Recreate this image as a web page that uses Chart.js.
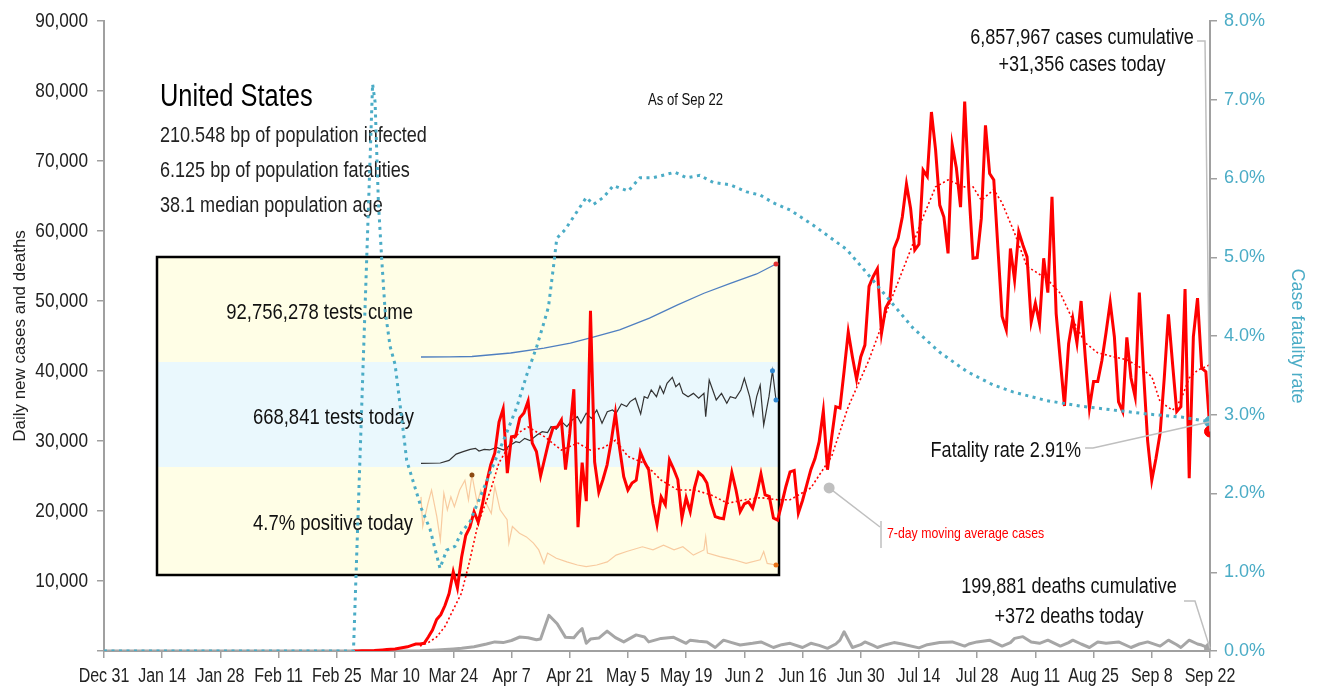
<!DOCTYPE html>
<html lang="en">
<head>
<meta charset="utf-8"/>
<title>United States - daily cases, deaths and fatality rate</title>
<script src="https://cdn.jsdelivr.net/npm/chart.js"></script>
<style>
  body { margin: 0; background: #fff; }
  canvas { display: block; }
</style>
</head>
<body>
<canvas id="chart" width="1318" height="688"></canvas>
<script>
// x values are days counted from Dec 31, 2019
const xLabels = ['Dec 31','Jan 14','Jan 28','Feb 11','Feb 25','Mar 10','Mar 24','Apr 7','Apr 21','May 5',
  'May 19','Jun 2','Jun 16','Jun 30','Jul 14','Jul 28','Aug 11','Aug 25','Sep 8','Sep 22'];

// daily new cases, day 60 .. day 266
const caseStart = 60;
const dailyCases = [
  0, 10, 20, 30, 40, 60, 100, 150, 200, 250,
  300, 400, 500, 600, 800, 1000, 1000, 1100, 2000, 3000,
  4500, 5200, 6500, 8200, 11300, 9000, 13400, 16500, 17700, 19900,
  18400, 20900, 24000, 26600, 28300, 32700, 34600, 25400, 30600, 30700,
  33300, 34000, 35700, 29700, 28500, 25000, 27500, 30000, 31900, 32000,
  33000, 25900, 31000, 37400, 17700, 26900, 21400, 48600, 27000, 22700,
  24500, 26600, 30000, 34000, 29000, 24900, 23000, 24000, 24400, 28400,
  27000, 25900, 21100, 18100, 22000, 20900, 27300, 26000, 24500, 19000,
  21900, 19900, 23300, 25500, 25000, 24000, 21100, 19200, 19000, 18900,
  22000, 25500, 23000, 19900, 21000, 21300, 20400, 22500, 25300, 22300,
  22100, 19000, 18700, 21000, 23500, 25600, 25800, 19700, 21500, 23700,
  25900, 27500, 29900, 34300, 25900, 30500, 34900, 34700, 40000, 45600,
  42000, 38800, 42000, 43700, 52100, 53500, 54600, 45400, 49000, 50100,
  57500, 59000, 62000, 66700, 63200, 57300, 58100, 68700, 67800, 77000,
  71600, 63700, 62000, 56800, 72300, 69000, 63400, 78500, 65900, 56100,
  56200, 61800, 75100, 68200, 67300, 57500, 47800, 45900, 57500, 53000,
  59900, 58000, 56300, 47000, 49700, 46800, 56100, 51200, 64900, 48200,
  41500, 35000, 43900, 47500, 44000, 50000, 42000, 34700, 38500, 38500,
  41500, 45500, 49800, 44900, 35600, 34200, 44800, 39000, 36300, 51200,
  40000, 30000, 24400, 27500, 31100, 39000, 48100, 41000, 34200, 34900,
  51700, 24700, 44900, 50400, 40400, 39900, 31356
];

// 7-day moving average of cases [day, value]
const maCases = [
  [76,700],[78,1200],[80,2000],[82,3500],[86,8300],[88,13000],[90,18300],[93,23000],[95,26900],
  [98,29900],[100,31300],[102,32000],[106,30600],[110,28700],[114,29700],[117,28700],[120,29000],
  [123,30100],[126,27800],[130,26800],[134,24400],[138,23000],[142,23000],[146,22300],[150,21100],
  [154,21600],[158,21900],[162,21600],[165,21600],[170,23300],[175,27800],[179,34900],[184,41600],
  [189,49700],[194,57300],[197,62000],[200,66300],[203,67300],[207,66300],[209,66300],[211,64400],
  [214,65900],[216,64000],[219,59700],[222,54900],[224,54200],[227,53000],[230,51100],[233,47300],
  [236,44000],[239,42600],[243,42000],[246,41600],[249,40600],[252,39200],[254,35600],[257,34400],
  [259,35900],[261,39000],[263,40100],[266,40900]
];

// daily deaths [day, value]
const dailyDeaths = [
  [0,0],[60,0],[70,10],[76,40],[80,150],[84,300],[86,400],[89,600],[92,1000],[94,1300],[96,1200],
  [98,1500],[100,2000],[102,1900],[104,1600],[105,1700],[107,5100],[109,3900],[111,1950],[113,1900],
  [114,2600],[115,3200],[116,1100],[117,1700],[119,1850],[121,2850],[123,1900],[125,1300],[128,2300],
  [130,2000],[131,1300],[134,1800],[137,1950],[140,1100],[141,1550],[143,1400],[145,1300],[147,500],
  [149,1550],[151,1200],[153,850],[156,1100],[158,1300],[161,500],[163,900],[165,1100],[168,500],
  [170,1100],[172,800],[174,380],[176,1000],[177,1550],[178,2750],[180,500],[182,900],[183,1300],
  [185,800],[186,500],[188,900],[190,1200],[192,1000],[193,850],[196,450],[198,900],[201,1200],
  [204,1300],[207,700],[208,1000],[210,1300],[213,1550],[216,700],[218,1200],[219,1800],[221,2050],
  [223,1300],[225,1100],[227,1550],[230,700],[232,1200],[233,1550],[235,1000],[237,500],[239,1300],
  [241,1100],[244,1300],[247,500],[249,1000],[251,1300],[254,700],[256,1550],[258,900],[259,500],
  [261,1550],[263,1000],[264,850],[266,372]
];

// case fatality rate, % [day, value]
const fatalityRate = [
  [0,0],[60,0],[64.6,7.2],[65.2,6.97],[66,5.69],[66.8,4.97],[67.6,4.33],[68.8,3.87],[70,3.64],
  [71.6,2.96],[72.8,2.42],[76.4,1.8],[78.4,1.55],[80.8,1.05],[82.4,1.28],[84.4,1.33],[86,1.51],
  [88,1.64],[92,2.15],[94.4,2.46],[96.9,2.78],[99.3,3.1],[101.7,3.51],[104.1,3.87],[105.7,4.15],
  [106.9,4.37],[108.1,4.88],[108.9,5.24],[110.9,5.35],[112.9,5.51],[116,5.76],[117.7,5.67],
  [120.1,5.76],[122.5,5.91],[126.1,5.84],[128.9,6.01],[132.1,6.01],[137.3,6.08],[140.1,6.01],
  [143.3,6.04],[146.5,5.95],[150.6,5.92],[154.6,5.83],[157.8,5.79],[161,5.69],[165,5.6],[170.5,5.41],
  [178.6,5.1],[184.9,4.71],[189,4.45],[194.6,4.1],[201.1,3.79],[207.5,3.55],[213.8,3.38],[218.6,3.29],
  [226.7,3.18],[234.7,3.11],[242.7,3.06],[250.8,3.01],[259.1,2.97],[266,2.91]
];

// inset: testing [day, value]
const testsCume = [
  [64,0],[80,100000],[93,500000],[115,4000000],[134,8900000],[149,13900000],[162,19900000],
  [177,27100000],[194,38700000],[210,52000000],[225,63600000],[240,73500000],[255,82800000],[266,92756278]
];
const testsToday = [
  [64,37000],[75,40000],[80,66000],[84,129000],[88,153000],[92,176000],[95,186000],[97,160000],
  [100,176000],[103,170000],[107,196000],[111,170000],[115,220000],[118,253000],[120,243000],
  [123,286000],[126,263000],[130,320000],[133,353000],[136,343000],[138,403000],[141,376000],
  [144,453000],[147,403000],[150,469000],[153,502000],[155,436000],[158,536000],[161,486000],
  [164,569000],[167,436000],[170,552000],[173,569000],[175,536000],[178,629000],[181,603000],
  [183,653000],[186,686000],[189,529000],[191,702000],[193,686000],[195,769000],[198,702000],
  [200,808000],[202,735000],[204,835000],[207,895000],[209,802000],[211,835000],[213,735000],
  [216,702000],[219,735000],[222,686000],[225,735000],[226,502000],[228,868000],[230,769000],
  [232,669000],[235,735000],[238,636000],[240,702000],[243,686000],[246,769000],[248,885000],
  [251,702000],[253,519000],[255,702000],[257,818000],[259,419000],[262,702000],[264,962000],[266,668841]
];
const positiveRate = [
  [64,17.8],[65,12.1],[68,16.6],[70,19.1],[73,14.0],[75,9.5],[77,18.5],[79,15.3],[81,17.8],[83,15.9],
  [86,19.1],[89,21.0],[91,17.2],[93,22.0],[96,16.6],[98,19.1],[101,16.6],[104,14.6],[106,19.8],
  [109,15.3],[113,13.4],[114,8.9],[116,12.1],[120,10.8],[124,10.1],[128,8.9],[131,7.6],[134,5.0],
  [136,7.0],[141,6.0],[147,5.3],[153,4.7],[158,4.4],[164,4.7],[170,5.3],[175,6.6],[181,7.3],
  [190,8.2],[196,7.6],[202,8.5],[208,7.6],[213,8.2],[219,6.6],[225,7.6],[226,10.1],[227,7.0],
  [234,6.3],[242,5.7],[249,5.0],[257,5.7],[259,7.3],[261,5.0],[266,4.7]
];

const SANS = "'Liberation Sans', Arial, sans-serif";
const SQUEEZE = 0.82;   // narrow look for the condensed labels
const BLUE = '#4BACC6';
const GRID = '#A0A0A0';

const toPts = arr => arr.map(p => ({ x: p[0], y: p[1] }));
const casePts = dailyCases.map((v, i) => ({ x: caseStart + i, y: v }));
const lastCase = casePts[casePts.length - 1];
const lastCfr = toPts(fatalityRate).pop();
const lastDeath = toPts(dailyDeaths).pop();

// plot area and inset placement (pixels)
const AREA = { left: 104, right: 1210, top: 21, bottom: 651 };
const BOX = { x: 157, y: 257, w: 622, h: 318 };

function hRange(v1, p1, v2, p2) {
  const s = (p2 - p1) / (v2 - v1);
  return { min: v1 - (p1 - AREA.left) / s, max: v1 + (AREA.right - p1) / s };
}
function vRange(v1, p1, v2, p2) {
  const s = (p1 - p2) / (v2 - v1);
  return { min: v1 - (AREA.bottom - p1) / s, max: v1 + (p1 - AREA.top) / s };
}
const xi = hRange(64, 421, 266, 776);
const yc = vRange(0, 357, 92756278, 264);
const yt = vRange(0, 467, 668841, 400);
const yp = vRange(4.7, 565, 22, 475);

function markIdx(arr) {
  let m = 0;
  arr.forEach((p, i) => { if (p[1] > arr[m][1]) m = i; });
  return m;
}
const todayMax = markIdx(testsToday);
const posMax = markIdx(positiveRate);

// condensed text: regular sans squeezed horizontally
function txt(c, s, x, y, size, color, align) {
  c.save();
  c.font = size + 'px ' + SANS;
  c.fillStyle = color;
  c.textBaseline = 'middle';
  c.textAlign = 'left';
  const w = c.measureText(s).width * SQUEEZE;
  let left = x;
  if (align === 'right') left = x - w;
  if (align === 'center') left = x - w / 2;
  c.translate(left, y);
  c.scale(SQUEEZE, 1);
  c.fillText(s, 0, 0);
  c.restore();
}

const notes = {
  id: 'notes',
  beforeDatasetsDraw(chart) {
    const c = chart.ctx;
    c.save();
    c.fillStyle = '#FFFEE6'; c.fillRect(BOX.x, BOX.y, BOX.w, 105);
    c.fillStyle = '#EAF8FD'; c.fillRect(BOX.x, BOX.y + 105, BOX.w, 105);
    c.fillStyle = '#FFFEE6'; c.fillRect(BOX.x, BOX.y + 210, BOX.w, BOX.h - 210);
    c.strokeStyle = '#000'; c.lineWidth = 2.5;
    c.strokeRect(BOX.x, BOX.y, BOX.w, BOX.h);
    c.restore();

    txt(c, '92,756,278 tests cume', 413, 313, 22.5, '#111', 'right');
    txt(c, '668,841 tests today', 414, 418, 22.5, '#111', 'right');
    txt(c, '4.7% positive today', 413, 524, 22.5, '#111', 'right');

    txt(c, 'United States', 160, 97, 31, '#000');
    txt(c, '210.548 bp of population infected', 160, 136, 22, '#222');
    txt(c, '6.125 bp of population fatalities', 160, 171, 22, '#222');
    txt(c, '38.1 median population age', 160, 206, 22, '#222');
    txt(c, 'As of Sep 22', 648, 101, 16, '#111');
  },
  afterDatasetsDraw(chart) {
    const c = chart.ctx, x = chart.scales.x, y = chart.scales.y, y1 = chart.scales.y1;
    const cx = x.getPixelForValue(lastCase.x), cy = y.getPixelForValue(lastCase.y);
    const fy = y1.getPixelForValue(lastCfr.y), dy = y.getPixelForValue(lastDeath.y);
    c.save();
    c.strokeStyle = '#BFBFBF'; c.lineWidth = 1.5;
    c.beginPath(); c.moveTo(1197, 41); c.lineTo(1205, 41); c.lineTo(cx, cy); c.stroke();
    c.beginPath(); c.moveTo(1085, 448); c.lineTo(1093, 448); c.lineTo(cx, fy); c.stroke();
    c.beginPath(); c.moveTo(1184, 601); c.lineTo(1195, 601); c.lineTo(cx, dy); c.stroke();
    // moving average callout
    const mx = x.getPixelForValue(174.4), my = y.getPixelForValue(23300);
    c.beginPath(); c.moveTo(mx, my); c.lineTo(880, 527); c.stroke();
    c.beginPath(); c.moveTo(881, 521); c.lineTo(881, 548); c.stroke();
    c.fillStyle = '#BFBFBF';
    c.beginPath(); c.arc(mx, my, 5.5, 0, Math.PI * 2); c.fill();
    c.restore();

    txt(c, '6,857,967 cases cumulative', 1082, 38, 22, '#111', 'center');
    txt(c, '+31,356 cases today', 1082, 65, 22, '#111', 'center');
    txt(c, 'Fatality rate 2.91%', 1081, 451, 22, '#111', 'right');
    txt(c, '7-day moving average cases', 887, 534, 15, '#FF0000');
    txt(c, '199,881 deaths cumulative', 1069, 587, 22, '#111', 'center');
    txt(c, '+372 deaths today', 1069, 617, 22, '#111', 'center');
  },
  afterDraw(chart) {
    const c = chart.ctx, x = chart.scales.x, y = chart.scales.y;
    x.ticks.forEach((t, i) => {
      txt(c, xLabels[i], x.getPixelForValue(t.value), 677, 19.5, '#222', 'center');
    });
    y.ticks.forEach(t => {
      if (t.value === 0) return;
      txt(c, t.value.toLocaleString('en-US'), 88, y.getPixelForValue(t.value), 21, '#222', 'right');
    });
  }
};

const axisGrid = { drawOnChartArea: false, drawTicks: true, tickLength: 7, color: GRID, lineWidth: 1.5 };
const axisBorder = { display: true, color: GRID, width: 2 };

new Chart(document.getElementById('chart'), {
  type: 'line',
  data: {
    datasets: [
      { data: [lastCase], borderColor: '#FF0000', backgroundColor: '#FF0000', pointRadius: 5.5, showLine: false, order: 0 },
      { data: [lastCfr], yAxisID: 'y1', borderColor: BLUE, backgroundColor: BLUE, pointRadius: 5.5, showLine: false, order: 0 },
      { data: [lastDeath], borderColor: '#A6A6A6', backgroundColor: '#A6A6A6', pointRadius: 5.5, showLine: false, order: 0 },
      { label: 'Case fatality rate', data: toPts(fatalityRate), yAxisID: 'y1', borderColor: BLUE,
        borderWidth: 3, borderDash: [3, 4.5], pointRadius: 0, order: 1 },
      { label: '7-day moving average cases', data: toPts(maCases), borderColor: '#FF0000',
        borderWidth: 1.6, borderDash: [2, 2.5], pointRadius: 0, order: 2 },
      { label: 'Daily new cases', data: casePts, borderColor: '#FF0000', borderWidth: 3, pointRadius: 0, order: 3 },
      { label: 'Daily deaths', data: toPts(dailyDeaths), borderColor: '#A6A6A6', borderWidth: 3,
        borderJoinStyle: 'round', pointRadius: 0, order: 4 },
      { label: 'Tests cume', data: toPts(testsCume), xAxisID: 'xi', yAxisID: 'yc', borderColor: '#4F7FC0',
        borderWidth: 1.3, pointBackgroundColor: '#E03030', pointBorderWidth: 0,
        pointRadius: ctx => ctx.dataIndex === testsCume.length - 1 ? 2.5 : 0, order: 10 },
      { label: 'Tests today', data: toPts(testsToday), xAxisID: 'xi', yAxisID: 'yt', borderColor: '#333',
        borderWidth: 1.2, pointBackgroundColor: '#2E86D0', pointBorderWidth: 0,
        pointRadius: ctx => (ctx.dataIndex === testsToday.length - 1 || ctx.dataIndex === todayMax) ? 2.5 : 0, order: 11 },
      { label: 'Positive', data: toPts(positiveRate), xAxisID: 'xi', yAxisID: 'yp', borderColor: '#F8CBA0',
        borderWidth: 1.2, pointBorderWidth: 0,
        pointBackgroundColor: ctx => ctx.dataIndex === posMax ? '#8B4A12' : '#E8751A',
        pointRadius: ctx => (ctx.dataIndex === positiveRate.length - 1 || ctx.dataIndex === posMax) ? 2.5 : 0, order: 12 }
    ]
  },
  options: {
    responsive: false,
    animation: false,
    layout: { padding: { top: AREA.top } },
    elements: { line: { tension: 0, fill: false } },
    plugins: { legend: { display: false }, tooltip: { enabled: false } },
    scales: {
      x: {
        type: 'linear', min: 0, max: 266,
        grid: axisGrid, border: axisBorder,
        ticks: { stepSize: 14, autoSkip: false, display: false },
        afterFit: s => { s.height = 688 - AREA.bottom; }
      },
      y: {
        position: 'left', min: 0, max: 90000,
        grid: axisGrid, border: axisBorder,
        ticks: { stepSize: 10000, display: false },
        title: { display: true, text: 'Daily new cases and deaths', color: '#222',
          font: { family: SANS, size: 17 }, padding: { top: 10, bottom: 0 } },
        afterFit: s => { s.width = AREA.left; }
      },
      y1: {
        position: 'right', min: 0, max: 8,
        grid: axisGrid, border: axisBorder,
        ticks: { stepSize: 1, padding: 7, color: BLUE, font: { family: SANS, size: 18 },
          callback: v => v.toFixed(1) + '%' },
        title: { display: true, text: 'Case fatality rate', color: BLUE,
          font: { family: SANS, size: 18 }, padding: { top: 10, bottom: 0 } },
        afterFit: s => { s.width = 1318 - AREA.right; }
      },
      xi: { type: 'linear', display: false, min: xi.min, max: xi.max },
      yc: { display: false, min: yc.min, max: yc.max },
      yt: { display: false, min: yt.min, max: yt.max },
      yp: { display: false, min: yp.min, max: yp.max }
    }
  },
  plugins: [notes]
});
</script>
</body>
</html>
